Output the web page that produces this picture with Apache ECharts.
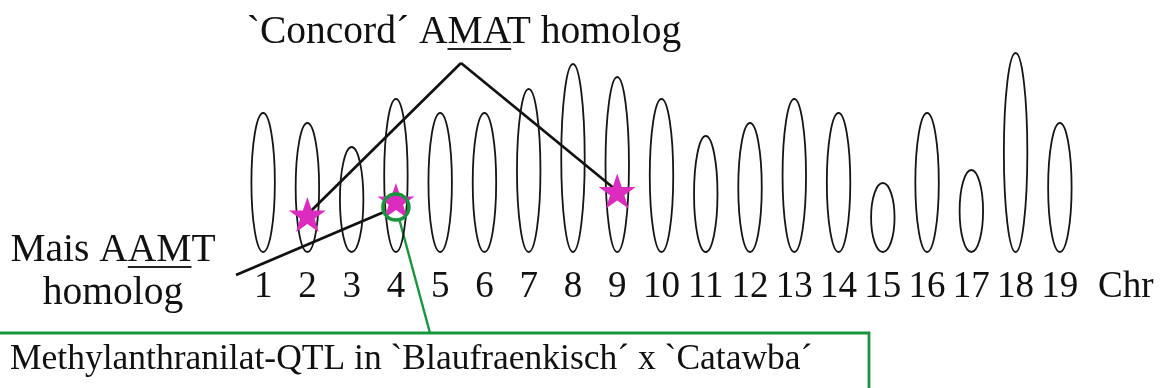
<!DOCTYPE html>
<html>
<head>
<meta charset="utf-8">
<script src="https://cdn.jsdelivr.net/npm/echarts@6/dist/echarts.min.js"></script>
<style>
html,body{margin:0;padding:0;background:#fff;}
#main{width:1163px;height:388px;}
</style>
</head>
<body>
<div id="main"></div>
<script>
// ---- data ----
const chromosomes = ['1','2','3','4','5','6','7','8','9','10','11','12','13','14','15','16','17','18','19'];
const chrLength   = [139,129,105,153,139,139,163,188,175,153,116,129,153,139,69,139,82,199,129];
const amatChr = ['2','9'];      // `Concord´ AMAT homolog
const amatPos = [37.5, 61];
const aamtChr = ['4'];          // Mais AAMT homolog
const aamtPos = [51.5];
const qtlChr  = ['4'];          // Methylanthranilat-QTL
const qtlPos  = [45];
const axisName = 'Chr';

// ---- style ----
const FONT = '"Liberation Serif", "Times New Roman", serif';
const FS = 37;      // axis labels
const FL = 39.5;    // annotation labels
const MAGENTA = '#dc2bbf';
const GREEN = '#17963c';
const STAR = 'path://M50,0 L61.8,35.1 L98.1,35.1 L68.7,56.7 L79.4,91 L50,70 L20.6,91 L31.3,56.7 L1.9,35.1 L38.2,35.1 Z';

const chart = echarts.init(document.getElementById('main'), null, {renderer:'canvas'});

chart.setOption({
  animation:false,
  backgroundColor:'#fff',
  grid:{left:241, right:81, top:52, bottom:136},
  xAxis:{
    type:'category', data:chromosomes,
    axisLine:{show:false}, axisTick:{show:false}, splitLine:{show:false},
    axisLabel:{fontFamily:FONT, fontSize:FS, color:'#111', margin:17, interval:0},
    name:axisName, nameLocation:'end', nameGap:16,
    nameTextStyle:{fontFamily:FONT, fontSize:FS, color:'#111', verticalAlign:'top', padding:[17,0,0,0]}
  },
  yAxis:{type:'value', min:0, max:200, show:false},
  series:[
    {
      type:'custom', z:2,
      data: chromosomes.map((c,i)=>[i, chrLength[i]]),
      renderItem:function(params, api){
        const base = api.coord([api.value(0), 0]);
        const top = api.coord([api.value(0), api.value(1)]);
        const band = api.size([1,0])[0];
        return {
          type:'ellipse',
          shape:{cx:base[0], cy:(base[1]+top[1])/2, rx:band*0.265, ry:(base[1]-top[1])/2},
          style:{fill:'none', stroke:'#151515', lineWidth:1.8}
        };
      }
    },
    {
      type:'scatter', z:3, symbol:STAR, symbolSize:[37,35],
      itemStyle:{color:MAGENTA, opacity:1},
      data: amatChr.map((c,i)=>[c, amatPos[i]]).concat(aamtChr.map((c,i)=>[c, aamtPos[i]]))
    },
    {
      type:'scatter', z:4, symbol:'circle', symbolSize:26,
      itemStyle:{color:'rgba(0,0,0,0)', borderColor:GREEN, borderWidth:3.5, opacity:1},
      data: qtlChr.map((c,i)=>[c, qtlPos[i]])
    }
  ]
});

// ---- annotations ----
const cv = document.createElement('canvas').getContext('2d');
function tw(s, size){ cv.font = size + 'px ' + FONT; return cv.measureText(s).width; }
function px(c, v){ return chart.convertToPixel({xAxisIndex:0, yAxisIndex:0}, [c, v]); }

const g = [];
const lineStyle = {stroke:'#111', lineWidth:2.7};

// Concord AMAT label
const concordTxt = '`Concord´ AMAT homolog';
const cCx = 464, cCy = 33;
const cLeft = cCx - tw(concordTxt, FL)/2;
g.push({type:'text', x:cLeft, y:cCy, z:10, style:{text:concordTxt, font:FL+'px '+FONT, fill:'#111', align:'left', verticalAlign:'middle'}});
const cu0 = cLeft + tw('`Concord´ A', FL), cu1 = cu0 + tw('MA', FL);
g.push({type:'line', z:10, shape:{x1:cu0, y1:cCy+16, x2:cu1, y2:cCy+16}, style:{stroke:'#222', lineWidth:2}});

// lines from apex to AMAT stars
const apex = [461, 63];
amatChr.forEach((c,i)=>{
  const p = px(c, amatPos[i]);
  g.push({type:'line', z:1, shape:{x1:apex[0], y1:apex[1], x2:p[0], y2:p[1]}, style:lineStyle});
});

// Mais AAMT label
const m1 = 'Mais AAMT', m2 = 'homolog';
const mCx = 113;
const m1Left = mCx - tw(m1, FL)/2;
g.push({type:'text', x:m1Left, y:251, z:10, style:{text:m1, font:FL+'px '+FONT, fill:'#111', align:'left', verticalAlign:'middle'}});
const mu0 = m1Left + tw('Mais A', FL), mu1 = mu0 + tw('AM', FL);
g.push({type:'line', z:10, shape:{x1:mu0, y1:251+16, x2:mu1, y2:251+16}, style:{stroke:'#222', lineWidth:2}});
g.push({type:'text', x:mCx, y:294, z:10, style:{text:m2, font:FL+'px '+FONT, fill:'#111', align:'center', verticalAlign:'middle'}});

// line from Mais label to the ringed star on chr 4
const ring = px(qtlChr[0], qtlPos[0]);
const mStart = [236, 275];
(function(){
  const dx = ring[0]-mStart[0], dy = ring[1]-mStart[1], L = Math.hypot(dx,dy);
  g.push({type:'line', z:1, shape:{x1:mStart[0], y1:mStart[1], x2:ring[0]-13*dx/L, y2:ring[1]-13*dy/L}, style:lineStyle});
})();

// QTL box + green connector
const boxTop = 333;
const boxRight = 869;
const gEnd = [430, boxTop];
(function(){
  const dx = gEnd[0]-ring[0], dy = gEnd[1]-ring[1], L = Math.hypot(dx,dy);
  g.push({type:'line', z:1, shape:{x1:ring[0]+13*dx/L, y1:ring[1]+13*dy/L, x2:gEnd[0], y2:gEnd[1]}, style:{stroke:GREEN, lineWidth:2.4}});
})();
g.push({type:'rect', z:1, shape:{x:-5, y:boxTop, width:boxRight+5, height:80}, style:{fill:'none', stroke:GREEN, lineWidth:2.8}});
g.push({type:'text', x:10, y:360, z:10, style:{text:'Methylanthranilat-QTL in `Blaufraenkisch´ x `Catawba´', font:'35.5px '+FONT, fill:'#111', align:'left', verticalAlign:'middle'}});

chart.setOption({graphic:g});
</script>
</body>
</html>
